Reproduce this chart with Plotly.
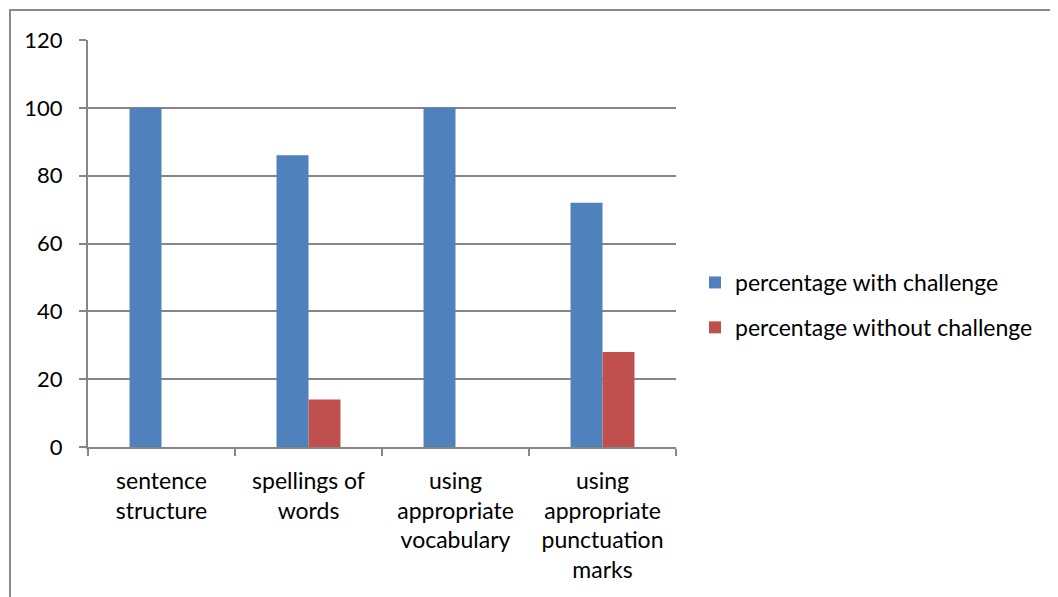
import plotly.graph_objects as go

categories = ["sentence<br>structure", "spellings of<br>words", "using<br>appropriate<br>vocabulary",
              "using<br>appropriate<br>punctuation<br>marks"]
with_challenge = [100, 86, 100, 72]
without_challenge = [0, 14, 0, 28]
y_ticks = [0, 20, 40, 60, 80, 100, 120]

FONT = "Lato, 'Open Sans', sans-serif"
FS = 23

fig = go.Figure()
fig.add_trace(go.Bar(x=categories, y=with_challenge, name="percentage with challenge",
                     marker=dict(color="#4F81BD", line=dict(width=0)), legendgroup="a"))
fig.add_trace(go.Bar(x=categories, y=without_challenge, name="percentage without challenge",
                     marker=dict(color="#C0504D", line=dict(width=0)), legendgroup="b"))

OFF = 8  # page body margin
W, H = 1058, 597
L, T = 88 - OFF, 40 - OFF
pw, ph = 588, 407
R = W - L - pw
B = H - T - ph

def px(x):
    return (x - OFF - L) / pw

def py(y):
    return 1 - (y - OFF - T) / ph

fig.update_layout(
    width=W, height=H,
    margin=dict(l=L, r=R, t=T, b=B, autoexpand=False),
    paper_bgcolor="white", plot_bgcolor="white",
    font=dict(family=FONT, size=FS, color="#000000"),
    barmode="group", bargap=0.565, bargroupgap=0,
    showlegend=True,
    legend=dict(x=px(695), y=py(261), xanchor="left", yanchor="top",
                font=dict(size=FS), tracegroupgap=12, itemwidth=30,
                bgcolor="rgba(0,0,0,0)"),
    xaxis=dict(showline=True, linecolor="#868686", linewidth=2,
               ticks="outside", ticklen=7, tickcolor="#868686", tickwidth=2,
               tickson="boundaries", showgrid=False, fixedrange=True,
               ticklabelstandoff=12, tickfont=dict(size=FS)),
    yaxis=dict(range=[0, 120], tickvals=y_ticks, showline=True, linecolor="#868686", linewidth=2,
               ticks="outside", ticklen=7, tickcolor="#868686", tickwidth=2,
               showgrid=True, gridcolor="#868686", gridwidth=1.5, zeroline=False,
               ticklabelstandoff=12, tickfont=dict(size=22)),
    shapes=[dict(type="rect", xref="paper", yref="paper",
                 x0=px(10), y0=py(660), x1=px(1120), y1=py(10),
                 line=dict(color="#8a8a8a", width=2), fillcolor="rgba(0,0,0,0)", layer="below")],
)

fig.write_html("out.html")
